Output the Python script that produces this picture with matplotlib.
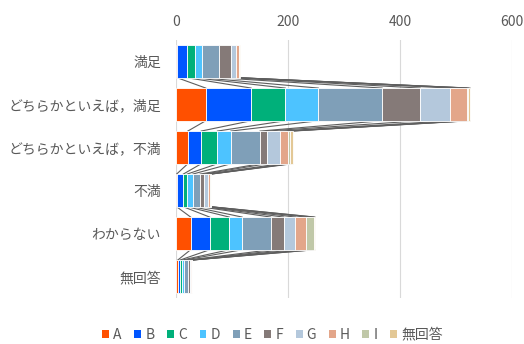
import numpy as np
import matplotlib.pyplot as plt
from matplotlib.patches import Patch

plt.rcParams['font.family'] = ['Noto Sans CJK JP', 'DejaVu Sans']

# カテゴリと系列
categorias = ['満足', 'どちらかといえば，満足', 'どちらかといえば，不満', '不満', 'わからない', '無回答']
series = ['A', 'B', 'C', 'D', 'E', 'F', 'G', 'H', 'I', '無回答']

# 各カテゴリの値（系列 A..無回答 の順）
v_manzoku = [2, 18, 13, 14, 30, 21, 9, 5, 1, 1]
v_yaya_manzoku = [53, 81, 61, 59, 114, 68, 54, 29, 3, 3]
v_yaya_fuman = [21, 24, 29, 24, 52, 12, 24, 14, 4, 4]
v_fuman = [1, 12, 7, 10, 13, 7, 7, 4, 1, 1]
v_wakaranai = [26, 34, 35, 23, 51, 23, 21, 19, 14, 2]
v_mukaito = [3, 4, 4, 4, 7, 3, 2, 1, 0, 0]

colores = ['#FF5000', '#0055FF', '#00B07A', '#4DC3FF', '#7F9FB8',
           '#857A78', '#B4C8DC', '#E3A68A', '#C0C8A8', '#E3C896']

datos = np.array([v_manzoku, v_yaya_manzoku, v_yaya_fuman, v_fuman, v_wakaranai, v_mukaito])
acum = np.cumsum(datos, axis=1)
inicio = acum - datos

fig = plt.figure(figsize=(5.24, 3.44), dpi=100)
ax = fig.add_axes([0.336, 0.134, 0.641, 0.75])

y = np.arange(len(categorias))
alto = 0.76

# 系列線（セグメント端をつなぐ）
for j in range(len(series)):
    for i in range(len(categorias) - 1):
        ax.plot([acum[i, j], acum[i + 1, j]], [y[i] + alto / 2, y[i + 1] - alto / 2],
                color='#5E5E5E', lw=0.8, zorder=2)

for j, s in enumerate(series):
    ax.barh(y, datos[:, j], left=inicio[:, j], height=alto, color=colores[j],
            edgecolor='white', linewidth=0.6, label=s, zorder=3)

ax.set_xlim(0, 600)
ax.set_ylim(len(categorias) - 0.5, -0.5)
ax.set_xticks([0, 200, 400, 600])
ax.xaxis.tick_top()
ax.set_yticks(y)
ax.set_yticklabels(categorias)
ax.tick_params(axis='both', length=0, colors='#595959', labelsize=10)
ax.tick_params(axis='x', pad=8)
ax.tick_params(axis='y', pad=11)
ax.grid(axis='x', color='#D9D9D9', lw=0.8, zorder=0)
ax.set_axisbelow(True)
for sp in ax.spines.values():
    sp.set_visible(False)

handles = [Patch(facecolor=c, edgecolor='none') for c in colores]
fig.legend(handles, series, loc='lower center', bbox_to_anchor=(0.52, -0.03), ncol=10,
           frameon=False, handlelength=0.5, handleheight=0.5, handletextpad=0.3,
           columnspacing=0.9, fontsize=10, labelcolor='#595959')

fig.savefig('out.png', dpi=100)
